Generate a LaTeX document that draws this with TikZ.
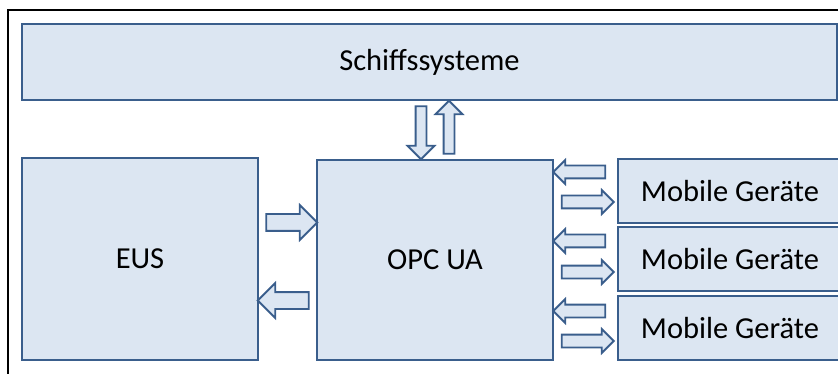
\documentclass[tikz,border=0pt]{standalone}
\usepackage{fontspec}
\setmainfont{Carlito}
\usetikzlibrary{shapes.arrows,calc}
\definecolor{boxline}{RGB}{58,94,140}
\definecolor{boxfill}{RGB}{220,230,242}
\tikzset{
  box/.style={draw=boxline, fill=boxfill, line width=2.4pt, inner sep=0pt,
    font=\fontsize{30.5}{36}\selectfont},
  barrow/.style={single arrow, draw=boxline, fill=boxfill, line width=1.9pt,
    single arrow tip angle=90, single arrow head indent=0pt, minimum width=0pt},
  bigarrow/.style={barrow, inner sep=7.5pt, single arrow head extend=9pt, minimum height=51pt},
  smallarrow/.style={barrow, inner sep=5.5pt, single arrow head extend=5.5pt, minimum height=52pt},
  vertarrow/.style={barrow, inner sep=4.5pt, single arrow head extend=8pt, minimum height=53pt}
}
\begin{document}
\begin{tikzpicture}[x=1pt,y=-1pt]
      \useasboundingbox (0,0) rectangle (838,374);
      \draw[black, line width=2pt] (8,420) -- (8,10) -- (900,10);
      \draw
        (429.5,62) node[box, minimum width=815pt, minimum height=76pt] (sys){Schiffssysteme}
        (140,259) node[box, minimum width=236pt, minimum height=202pt] (eus){EUS}
        (435,260) node[box, minimum width=236pt, minimum height=200pt] (opc){OPC UA}
        (730,191) node[box, minimum width=224pt, minimum height=64pt] (m1){Mobile Geräte}
        (730,259) node[box, minimum width=224pt, minimum height=64pt] (m2){Mobile Geräte}
        (730,328) node[box, minimum width=224pt, minimum height=64pt] (m3){Mobile Geräte};
      \begin{scope}
        \node[bigarrow] (eo) at ($(eus.east)!.5!(opc.west)+(0,-37)$) {};
        \node[bigarrow, shape border rotate=180] (oe) at ($(eus.east)!.5!(opc.west)+(0,41)$) {};
        \node[vertarrow, shape border rotate=270] (so) at ($(sys.south -| opc.north)!.5!(opc.north)+(-14,0)$) {};
        \node[vertarrow, shape border rotate=90] (os) at ($(sys.south -| opc.north)!.5!(opc.north)+(14,0)$) {};
        \node[smallarrow, shape border rotate=180] (m1l) at ($(opc.east |- m1.west)!.5!(m1.west)+(-3,-19)$) {};
        \node[smallarrow] (m1r) at ($(opc.east |- m1.west)!.5!(m1.west)+(-1,11)$) {};
        \node[smallarrow, shape border rotate=180] (m2l) at ($(opc.east |- m2.west)!.5!(m2.west)+(-3,-18)$) {};
        \node[smallarrow] (m2r) at ($(opc.east |- m2.west)!.5!(m2.west)+(-1,13)$) {};
        \node[smallarrow, shape border rotate=180] (m3l) at ($(opc.east |- m3.west)!.5!(m3.west)+(-3,-17)$) {};
        \node[smallarrow] (m3r) at ($(opc.east |- m3.west)!.5!(m3.west)+(-1,13)$) {};
      \end{scope}
    \end{tikzpicture}
\end{document}
